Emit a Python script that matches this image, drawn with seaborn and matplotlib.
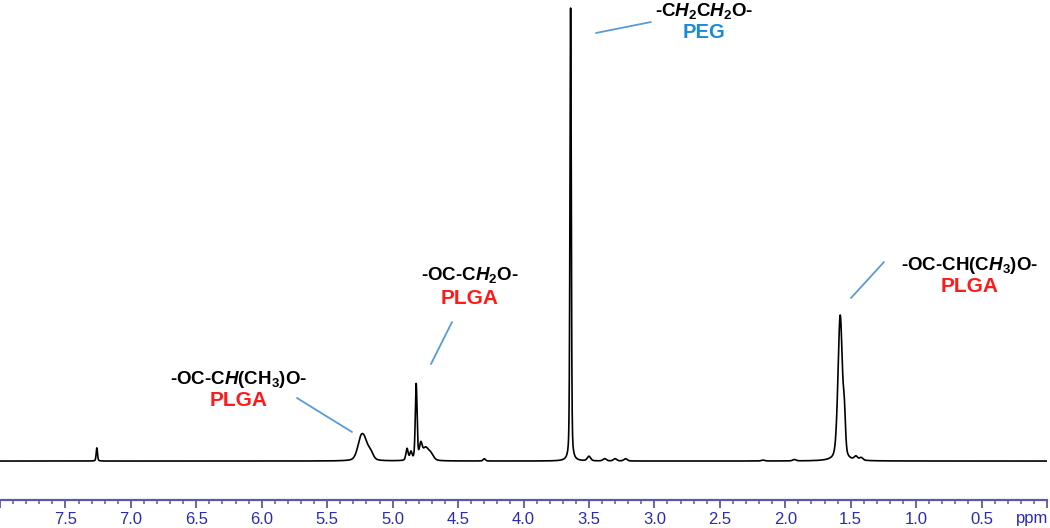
import numpy as np
import pandas as pd
import matplotlib
matplotlib.use("Agg")
import matplotlib.pyplot as plt
from matplotlib.ticker import MultipleLocator, FixedLocator
import seaborn as sns

# peak list (ppm, height with PEG = 100, FWHM in ppm)
peak_ppm = [7.26, 5.245, 5.215, 5.17, 4.89, 4.86, 4.82, 4.785, 4.75, 4.71,
            4.30, 3.64, 3.50, 3.38, 3.30, 3.22, 2.17, 1.93, 1.58, 1.548, 1.46, 1.42]
peak_height = [2.9, 3.8, 3.4, 1.7, 2.6, 1.8, 16.8, 3.2, 2.6, 1.5,
               0.5, 100.0, 1.0, 0.5, 0.5, 0.5, 0.2, 0.3, 32.0, 7.0, 0.8, 0.6]
peak_width = [0.012, 0.06, 0.06, 0.05, 0.02, 0.02, 0.016, 0.025, 0.05, 0.05,
              0.02, 0.012, 0.03, 0.03, 0.03, 0.03, 0.03, 0.03, 0.04, 0.02, 0.03, 0.03]

tick_labels = ["7.5", "7.0", "6.5", "6.0", "5.5", "5.0", "4.5", "4.0",
               "3.5", "3.0", "2.5", "2.0", "1.5", "1.0", "0.5"]

# build the trace from the peak list (pseudo-Voigt line shapes)
ppm = np.linspace(8.0, 0.0, 8001)
intensity = np.zeros_like(ppm)
eta = 0.35
for c, h, w in zip(peak_ppm, peak_height, peak_width):
    g = (w / 2) ** 2
    lor = g / ((ppm - c) ** 2 + g)
    gau = np.exp(-4 * np.log(2) * (ppm - c) ** 2 / w ** 2)
    intensity += h * (eta * lor + (1 - eta) * gau)
spec = pd.DataFrame({"ppm": ppm, "intensity": intensity})

sns.set_style("white")
plt.rcParams["font.family"] = ["Liberation Sans", "DejaVu Sans"]
plt.rcParams["mathtext.fontset"] = "custom"
plt.rcParams["mathtext.rm"] = "Liberation Sans:bold"
plt.rcParams["mathtext.it"] = "Liberation Sans:italic:bold"
plt.rcParams["mathtext.bf"] = "Liberation Sans:bold"

W, H = 1050, 528
fig = plt.figure(figsize=(10.5, 5.28), dpi=100)
ax = fig.add_axes([0.0, (H - 500) / H, 1047 / W, 500 / H])

sns.lineplot(data=spec, x="ppm", y="intensity", color="black", linewidth=1.2,
             sort=False, ax=ax)

ax.set_xlim(8.0, 0.0)
ax.set_ylim(-8.6, 101.8)
ax.set_xlabel("")
ax.set_ylabel("")
ax.set_yticks([])
for s in ["left", "right", "top"]:
    ax.spines[s].set_visible(False)
axis_col = "#5a5aaa"
ax.spines["bottom"].set_color(axis_col)
ax.spines["bottom"].set_linewidth(1.6)

ax.xaxis.set_major_locator(FixedLocator([8.0] + [float(t) for t in tick_labels] + [0.0]))
ax.set_xticklabels([""] + tick_labels + [""])
ax.xaxis.set_minor_locator(MultipleLocator(0.1))
ax.tick_params(axis="x", which="both", bottom=True, direction="out", color=axis_col)
ax.tick_params(axis="x", which="major", length=6, width=1.3,
               labelcolor="#2b2bb0", labelsize=12, pad=3)
ax.tick_params(axis="x", which="minor", length=3, width=1.1)
for lab in ax.get_xticklabels():
    lab.set_family(["Liberation Sans Narrow", "Liberation Sans"])

fig.text(1032 / W, 1 - 519 / H, "ppm", color="#2b2bb0", fontsize=12,
         family=["Liberation Sans Narrow", "Liberation Sans"],
         ha="center", va="center")


def px(x, y):
    return x / W, 1 - y / H


def label(cx, cy, formula, name, name_col, cy2, name_size=15):
    fig.text(*px(cx, cy), formula, fontsize=13.5, fontweight="bold",
             ha="center", va="center", color="black")
    fig.text(*px(cx, cy2), name, fontsize=name_size, fontweight="bold",
             ha="center", va="center", color=name_col)


def leader(x0, y0, x1, y1):
    fig.add_artist(plt.Line2D([x0 / W, x1 / W], [1 - y0 / H, 1 - y1 / H],
                              color="#5b9bd5", linewidth=1.3))


red = "#ff1a1a"
label(704, 11, r"-C$\mathit{H}_2$C$\mathit{H}_2$O-", "PEG", "#1a8cd6", 33,
      name_size=14.5)
leader(596, 33, 651, 22)

label(470, 275, r"-OC-C$\mathit{H}_2$O-", "PLGA", red, 298)
leader(431, 364, 452, 322)

label(239, 379, r"-OC-C$\mathit{H}$(CH$_3$)O-", "PLGA", red, 400)
leader(297, 398, 352, 432)

label(970, 265, r"-OC-CH(C$\mathit{H}_3$)O-", "PLGA", red, 287)
leader(851, 298, 884, 262)

fig.savefig("out.png", dpi=100)
